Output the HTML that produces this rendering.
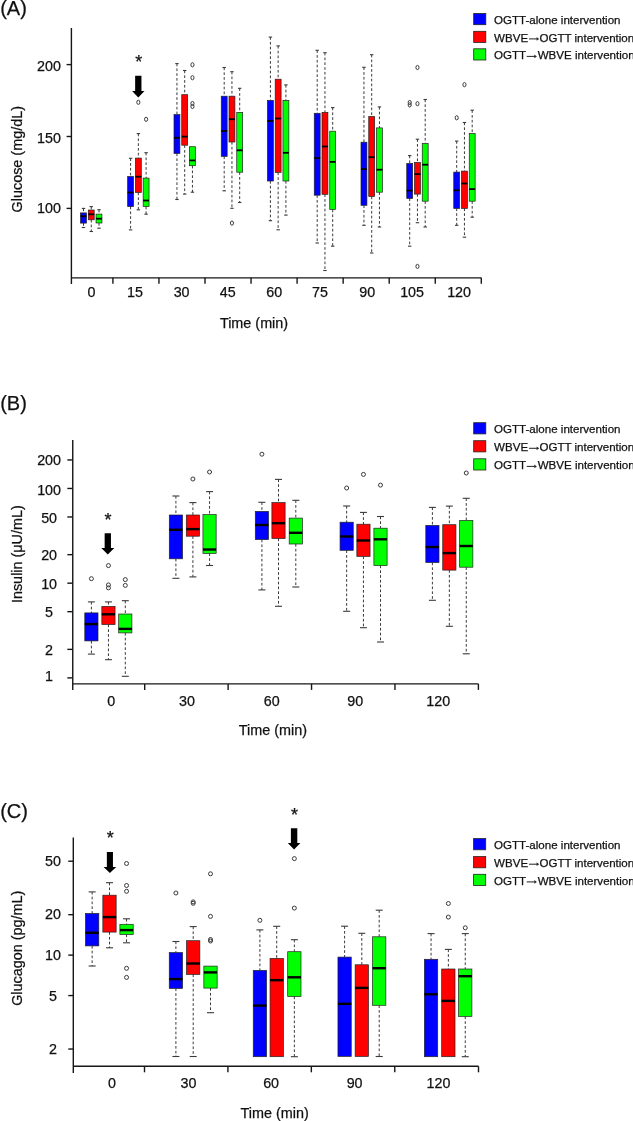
<!DOCTYPE html>
<html><head><meta charset="utf-8"><title>Figure</title>
<style>
html,body{margin:0;padding:0;background:#fff;}
body{width:633px;height:1121px;overflow:hidden;}
svg{display:block;font-family:"Liberation Sans", sans-serif;will-change:transform;}
text{fill:#111;stroke:#111;stroke-width:0.25px;}
.ax{stroke:#161616;stroke-width:1.4;fill:none;}
.wh{stroke:#3a3a3a;stroke-width:1;stroke-dasharray:2.7 2.1;}
.cap{stroke:#3a3a3a;stroke-width:1.1;}
.bx{stroke:#222;stroke-width:0.7;}
.ol{fill:none;stroke:#3a3a3a;stroke-width:1.0;}
</style></head>
<body><svg width="633" height="1121" viewBox="0 0 633 1121">
<rect width="633" height="1121" fill="#fff"/>
<text x="0.20" y="14.50" font-size="20" text-anchor="start" >(A)</text>
<line x1="71.40" y1="28.10" x2="71.40" y2="284.10" class="ax"/>
<line x1="66.60" y1="64.60" x2="71.40" y2="64.60" class="ax"/>
<text x="49.00" y="71.05" font-size="14.3" text-anchor="middle" >200</text>
<line x1="66.60" y1="136.50" x2="71.40" y2="136.50" class="ax"/>
<text x="49.00" y="142.95" font-size="14.3" text-anchor="middle" >150</text>
<line x1="66.60" y1="208.40" x2="71.40" y2="208.40" class="ax"/>
<text x="49.00" y="213.05" font-size="14.3" text-anchor="middle" >100</text>
<line x1="71.40" y1="277.85" x2="481.30" y2="277.85" class="ax"/>
<line x1="112.90" y1="277.85" x2="112.90" y2="283.85" class="ax"/>
<line x1="158.95" y1="277.85" x2="158.95" y2="283.85" class="ax"/>
<line x1="205.00" y1="277.85" x2="205.00" y2="283.85" class="ax"/>
<line x1="251.05" y1="277.85" x2="251.05" y2="283.85" class="ax"/>
<line x1="297.10" y1="277.85" x2="297.10" y2="283.85" class="ax"/>
<line x1="343.15" y1="277.85" x2="343.15" y2="283.85" class="ax"/>
<line x1="389.20" y1="277.85" x2="389.20" y2="283.85" class="ax"/>
<line x1="435.25" y1="277.85" x2="435.25" y2="283.85" class="ax"/>
<line x1="481.30" y1="277.85" x2="481.30" y2="283.85" class="ax"/>
<text x="91.50" y="297.20" font-size="14.3" text-anchor="middle" >0</text>
<text x="135.00" y="297.20" font-size="14.3" text-anchor="middle" >15</text>
<text x="181.60" y="297.20" font-size="14.3" text-anchor="middle" >30</text>
<text x="227.80" y="297.20" font-size="14.3" text-anchor="middle" >45</text>
<text x="274.30" y="297.20" font-size="14.3" text-anchor="middle" >60</text>
<text x="319.90" y="297.20" font-size="14.3" text-anchor="middle" >75</text>
<text x="367.20" y="297.20" font-size="14.3" text-anchor="middle" >90</text>
<text x="412.10" y="297.20" font-size="14.3" text-anchor="middle" >105</text>
<text x="459.10" y="297.20" font-size="14.3" text-anchor="middle" >120</text>
<text x="0" y="0" font-size="14.4" text-anchor="middle" transform="translate(21.90,159.25) rotate(-90)">Glucose (mg/dL)</text>
<text x="254.00" y="328.10" font-size="14.4" text-anchor="middle" >Time (min)</text>
<line x1="83.50" y1="208.40" x2="83.50" y2="212.90" class="wh"/>
<line x1="81.80" y1="208.40" x2="85.20" y2="208.40" class="cap"/>
<line x1="83.50" y1="223.10" x2="83.50" y2="227.50" class="wh"/>
<line x1="81.80" y1="227.50" x2="85.20" y2="227.50" class="cap"/>
<rect x="80.55" y="212.90" width="5.90" height="10.20" fill="#0000ff" class="bx"/>
<line x1="80.55" y1="216.20" x2="86.45" y2="216.20" stroke="#000" stroke-width="1.8"/>
<line x1="91.25" y1="206.60" x2="91.25" y2="210.00" class="wh"/>
<line x1="89.55" y1="206.60" x2="92.95" y2="206.60" class="cap"/>
<line x1="91.25" y1="219.80" x2="91.25" y2="231.50" class="wh"/>
<line x1="89.55" y1="231.50" x2="92.95" y2="231.50" class="cap"/>
<rect x="88.30" y="210.00" width="5.90" height="9.80" fill="#ff0000" class="bx"/>
<line x1="88.30" y1="214.30" x2="94.20" y2="214.30" stroke="#000" stroke-width="1.8"/>
<line x1="99.00" y1="209.70" x2="99.00" y2="214.10" class="wh"/>
<line x1="97.30" y1="209.70" x2="100.70" y2="209.70" class="cap"/>
<line x1="99.00" y1="223.00" x2="99.00" y2="228.20" class="wh"/>
<line x1="97.30" y1="228.20" x2="100.70" y2="228.20" class="cap"/>
<rect x="96.05" y="214.10" width="5.90" height="8.90" fill="#00ff00" class="bx"/>
<line x1="96.05" y1="218.70" x2="101.95" y2="218.70" stroke="#000" stroke-width="1.8"/>
<line x1="130.60" y1="158.30" x2="130.60" y2="176.50" class="wh"/>
<line x1="128.90" y1="158.30" x2="132.30" y2="158.30" class="cap"/>
<line x1="130.60" y1="206.60" x2="130.60" y2="229.90" class="wh"/>
<line x1="128.90" y1="229.90" x2="132.30" y2="229.90" class="cap"/>
<rect x="127.65" y="176.50" width="5.90" height="30.10" fill="#0000ff" class="bx"/>
<line x1="127.65" y1="192.50" x2="133.55" y2="192.50" stroke="#000" stroke-width="1.8"/>
<line x1="138.35" y1="133.60" x2="138.35" y2="158.10" class="wh"/>
<line x1="136.65" y1="133.60" x2="140.05" y2="133.60" class="cap"/>
<line x1="138.35" y1="192.50" x2="138.35" y2="209.80" class="wh"/>
<line x1="136.65" y1="209.80" x2="140.05" y2="209.80" class="cap"/>
<rect x="135.40" y="158.10" width="5.90" height="34.40" fill="#ff0000" class="bx"/>
<line x1="135.40" y1="176.70" x2="141.30" y2="176.70" stroke="#000" stroke-width="1.8"/>
<ellipse cx="138.35" cy="102.30" rx="1.55" ry="2.1" class="ol"/>
<line x1="146.10" y1="152.70" x2="146.10" y2="178.10" class="wh"/>
<line x1="144.40" y1="152.70" x2="147.80" y2="152.70" class="cap"/>
<line x1="146.10" y1="206.60" x2="146.10" y2="214.20" class="wh"/>
<line x1="144.40" y1="214.20" x2="147.80" y2="214.20" class="cap"/>
<rect x="143.15" y="178.10" width="5.90" height="28.50" fill="#00ff00" class="bx"/>
<line x1="143.15" y1="200.50" x2="149.05" y2="200.50" stroke="#000" stroke-width="1.8"/>
<ellipse cx="146.10" cy="119.30" rx="1.55" ry="2.1" class="ol"/>
<line x1="176.95" y1="63.60" x2="176.95" y2="114.60" class="wh"/>
<line x1="175.25" y1="63.60" x2="178.65" y2="63.60" class="cap"/>
<line x1="176.95" y1="153.50" x2="176.95" y2="199.50" class="wh"/>
<line x1="175.25" y1="199.50" x2="178.65" y2="199.50" class="cap"/>
<rect x="174.00" y="114.60" width="5.90" height="38.90" fill="#0000ff" class="bx"/>
<line x1="174.00" y1="137.80" x2="179.90" y2="137.80" stroke="#000" stroke-width="1.8"/>
<line x1="184.70" y1="70.50" x2="184.70" y2="94.70" class="wh"/>
<line x1="183.00" y1="70.50" x2="186.40" y2="70.50" class="cap"/>
<line x1="184.70" y1="145.20" x2="184.70" y2="194.10" class="wh"/>
<line x1="183.00" y1="194.10" x2="186.40" y2="194.10" class="cap"/>
<rect x="181.75" y="94.70" width="5.90" height="50.50" fill="#ff0000" class="bx"/>
<line x1="181.75" y1="136.60" x2="187.65" y2="136.60" stroke="#000" stroke-width="1.8"/>
<line x1="192.45" y1="165.70" x2="192.45" y2="192.20" class="wh"/>
<line x1="190.75" y1="192.20" x2="194.15" y2="192.20" class="cap"/>
<rect x="189.50" y="146.70" width="5.90" height="19.00" fill="#00ff00" class="bx"/>
<line x1="189.50" y1="160.40" x2="195.40" y2="160.40" stroke="#000" stroke-width="1.8"/>
<ellipse cx="192.45" cy="64.80" rx="1.55" ry="2.1" class="ol"/>
<ellipse cx="192.45" cy="77.70" rx="1.55" ry="2.1" class="ol"/>
<ellipse cx="192.45" cy="103.50" rx="1.55" ry="2.1" class="ol"/>
<ellipse cx="192.45" cy="106.50" rx="1.55" ry="2.1" class="ol"/>
<line x1="224.20" y1="67.50" x2="224.20" y2="96.20" class="wh"/>
<line x1="222.50" y1="67.50" x2="225.90" y2="67.50" class="cap"/>
<line x1="224.20" y1="156.40" x2="224.20" y2="190.80" class="wh"/>
<line x1="222.50" y1="190.80" x2="225.90" y2="190.80" class="cap"/>
<rect x="221.25" y="96.20" width="5.90" height="60.20" fill="#0000ff" class="bx"/>
<line x1="221.25" y1="131.00" x2="227.15" y2="131.00" stroke="#000" stroke-width="1.8"/>
<line x1="231.95" y1="71.70" x2="231.95" y2="96.20" class="wh"/>
<line x1="230.25" y1="71.70" x2="233.65" y2="71.70" class="cap"/>
<line x1="231.95" y1="142.00" x2="231.95" y2="208.30" class="wh"/>
<line x1="230.25" y1="208.30" x2="233.65" y2="208.30" class="cap"/>
<rect x="229.00" y="96.20" width="5.90" height="45.80" fill="#ff0000" class="bx"/>
<line x1="229.00" y1="119.20" x2="234.90" y2="119.20" stroke="#000" stroke-width="1.8"/>
<ellipse cx="231.95" cy="223.10" rx="1.55" ry="2.1" class="ol"/>
<line x1="239.70" y1="88.30" x2="239.70" y2="112.40" class="wh"/>
<line x1="238.00" y1="88.30" x2="241.40" y2="88.30" class="cap"/>
<line x1="239.70" y1="172.20" x2="239.70" y2="202.50" class="wh"/>
<line x1="238.00" y1="202.50" x2="241.40" y2="202.50" class="cap"/>
<rect x="236.75" y="112.40" width="5.90" height="59.80" fill="#00ff00" class="bx"/>
<line x1="236.75" y1="150.30" x2="242.65" y2="150.30" stroke="#000" stroke-width="1.8"/>
<line x1="270.40" y1="37.10" x2="270.40" y2="100.40" class="wh"/>
<line x1="268.70" y1="37.10" x2="272.10" y2="37.10" class="cap"/>
<line x1="270.40" y1="181.00" x2="270.40" y2="220.70" class="wh"/>
<line x1="268.70" y1="220.70" x2="272.10" y2="220.70" class="cap"/>
<rect x="267.45" y="100.40" width="5.90" height="80.60" fill="#0000ff" class="bx"/>
<line x1="267.45" y1="121.00" x2="273.35" y2="121.00" stroke="#000" stroke-width="1.8"/>
<line x1="278.15" y1="45.90" x2="278.15" y2="79.20" class="wh"/>
<line x1="276.45" y1="45.90" x2="279.85" y2="45.90" class="cap"/>
<line x1="278.15" y1="172.40" x2="278.15" y2="229.80" class="wh"/>
<line x1="276.45" y1="229.80" x2="279.85" y2="229.80" class="cap"/>
<rect x="275.20" y="79.20" width="5.90" height="93.20" fill="#ff0000" class="bx"/>
<line x1="275.20" y1="118.50" x2="281.10" y2="118.50" stroke="#000" stroke-width="1.8"/>
<line x1="285.90" y1="84.90" x2="285.90" y2="100.40" class="wh"/>
<line x1="284.20" y1="84.90" x2="287.60" y2="84.90" class="cap"/>
<line x1="285.90" y1="181.00" x2="285.90" y2="215.10" class="wh"/>
<line x1="284.20" y1="215.10" x2="287.60" y2="215.10" class="cap"/>
<rect x="282.95" y="100.40" width="5.90" height="80.60" fill="#00ff00" class="bx"/>
<line x1="282.95" y1="152.80" x2="288.85" y2="152.80" stroke="#000" stroke-width="1.8"/>
<line x1="317.20" y1="50.30" x2="317.20" y2="113.30" class="wh"/>
<line x1="315.50" y1="50.30" x2="318.90" y2="50.30" class="cap"/>
<line x1="317.20" y1="195.20" x2="317.20" y2="243.00" class="wh"/>
<line x1="315.50" y1="243.00" x2="318.90" y2="243.00" class="cap"/>
<rect x="314.25" y="113.30" width="5.90" height="81.90" fill="#0000ff" class="bx"/>
<line x1="314.25" y1="158.10" x2="320.15" y2="158.10" stroke="#000" stroke-width="1.8"/>
<line x1="324.95" y1="52.70" x2="324.95" y2="112.40" class="wh"/>
<line x1="323.25" y1="52.70" x2="326.65" y2="52.70" class="cap"/>
<line x1="324.95" y1="194.30" x2="324.95" y2="270.50" class="wh"/>
<line x1="323.25" y1="270.50" x2="326.65" y2="270.50" class="cap"/>
<rect x="322.00" y="112.40" width="5.90" height="81.90" fill="#ff0000" class="bx"/>
<line x1="322.00" y1="146.50" x2="327.90" y2="146.50" stroke="#000" stroke-width="1.8"/>
<line x1="332.70" y1="107.60" x2="332.70" y2="131.20" class="wh"/>
<line x1="331.00" y1="107.60" x2="334.40" y2="107.60" class="cap"/>
<line x1="332.70" y1="209.60" x2="332.70" y2="246.20" class="wh"/>
<line x1="331.00" y1="246.20" x2="334.40" y2="246.20" class="cap"/>
<rect x="329.75" y="131.20" width="5.90" height="78.40" fill="#00ff00" class="bx"/>
<line x1="329.75" y1="161.90" x2="335.65" y2="161.90" stroke="#000" stroke-width="1.8"/>
<line x1="363.95" y1="67.30" x2="363.95" y2="142.20" class="wh"/>
<line x1="362.25" y1="67.30" x2="365.65" y2="67.30" class="cap"/>
<line x1="363.95" y1="205.30" x2="363.95" y2="225.30" class="wh"/>
<line x1="362.25" y1="225.30" x2="365.65" y2="225.30" class="cap"/>
<rect x="361.00" y="142.20" width="5.90" height="63.10" fill="#0000ff" class="bx"/>
<line x1="361.00" y1="169.10" x2="366.90" y2="169.10" stroke="#000" stroke-width="1.8"/>
<line x1="371.70" y1="54.70" x2="371.70" y2="116.50" class="wh"/>
<line x1="370.00" y1="54.70" x2="373.40" y2="54.70" class="cap"/>
<line x1="371.70" y1="196.50" x2="371.70" y2="253.00" class="wh"/>
<line x1="370.00" y1="253.00" x2="373.40" y2="253.00" class="cap"/>
<rect x="368.75" y="116.50" width="5.90" height="80.00" fill="#ff0000" class="bx"/>
<line x1="368.75" y1="157.20" x2="374.65" y2="157.20" stroke="#000" stroke-width="1.8"/>
<line x1="379.45" y1="106.90" x2="379.45" y2="127.90" class="wh"/>
<line x1="377.75" y1="106.90" x2="381.15" y2="106.90" class="cap"/>
<line x1="379.45" y1="192.20" x2="379.45" y2="227.00" class="wh"/>
<line x1="377.75" y1="227.00" x2="381.15" y2="227.00" class="cap"/>
<rect x="376.50" y="127.90" width="5.90" height="64.30" fill="#00ff00" class="bx"/>
<line x1="376.50" y1="169.70" x2="382.40" y2="169.70" stroke="#000" stroke-width="1.8"/>
<line x1="409.70" y1="155.60" x2="409.70" y2="163.50" class="wh"/>
<line x1="408.00" y1="155.60" x2="411.40" y2="155.60" class="cap"/>
<line x1="409.70" y1="198.40" x2="409.70" y2="246.20" class="wh"/>
<line x1="408.00" y1="246.20" x2="411.40" y2="246.20" class="cap"/>
<rect x="406.75" y="163.50" width="5.90" height="34.90" fill="#0000ff" class="bx"/>
<line x1="406.75" y1="190.60" x2="412.65" y2="190.60" stroke="#000" stroke-width="1.8"/>
<ellipse cx="409.70" cy="102.50" rx="1.55" ry="2.1" class="ol"/>
<ellipse cx="409.70" cy="104.90" rx="1.55" ry="2.1" class="ol"/>
<line x1="417.45" y1="139.20" x2="417.45" y2="162.50" class="wh"/>
<line x1="415.75" y1="139.20" x2="419.15" y2="139.20" class="cap"/>
<line x1="417.45" y1="194.10" x2="417.45" y2="222.70" class="wh"/>
<line x1="415.75" y1="222.70" x2="419.15" y2="222.70" class="cap"/>
<rect x="414.50" y="162.50" width="5.90" height="31.60" fill="#ff0000" class="bx"/>
<line x1="414.50" y1="174.10" x2="420.40" y2="174.10" stroke="#000" stroke-width="1.8"/>
<ellipse cx="417.45" cy="67.50" rx="1.55" ry="2.1" class="ol"/>
<ellipse cx="417.45" cy="103.70" rx="1.55" ry="2.1" class="ol"/>
<ellipse cx="417.45" cy="266.40" rx="1.55" ry="2.1" class="ol"/>
<line x1="425.20" y1="99.50" x2="425.20" y2="143.50" class="wh"/>
<line x1="423.50" y1="99.50" x2="426.90" y2="99.50" class="cap"/>
<line x1="425.20" y1="201.20" x2="425.20" y2="227.00" class="wh"/>
<line x1="423.50" y1="227.00" x2="426.90" y2="227.00" class="cap"/>
<rect x="422.25" y="143.50" width="5.90" height="57.70" fill="#00ff00" class="bx"/>
<line x1="422.25" y1="164.70" x2="428.15" y2="164.70" stroke="#000" stroke-width="1.8"/>
<line x1="456.70" y1="141.10" x2="456.70" y2="172.10" class="wh"/>
<line x1="455.00" y1="141.10" x2="458.40" y2="141.10" class="cap"/>
<line x1="456.70" y1="208.40" x2="456.70" y2="225.30" class="wh"/>
<line x1="455.00" y1="225.30" x2="458.40" y2="225.30" class="cap"/>
<rect x="453.75" y="172.10" width="5.90" height="36.30" fill="#0000ff" class="bx"/>
<line x1="453.75" y1="190.30" x2="459.65" y2="190.30" stroke="#000" stroke-width="1.8"/>
<ellipse cx="456.70" cy="117.80" rx="1.55" ry="2.1" class="ol"/>
<line x1="464.45" y1="122.50" x2="464.45" y2="171.10" class="wh"/>
<line x1="462.75" y1="122.50" x2="466.15" y2="122.50" class="cap"/>
<line x1="464.45" y1="208.40" x2="464.45" y2="237.20" class="wh"/>
<line x1="462.75" y1="237.20" x2="466.15" y2="237.20" class="cap"/>
<rect x="461.50" y="171.10" width="5.90" height="37.30" fill="#ff0000" class="bx"/>
<line x1="461.50" y1="183.50" x2="467.40" y2="183.50" stroke="#000" stroke-width="1.8"/>
<ellipse cx="464.45" cy="84.70" rx="1.55" ry="2.1" class="ol"/>
<line x1="472.20" y1="110.20" x2="472.20" y2="133.50" class="wh"/>
<line x1="470.50" y1="110.20" x2="473.90" y2="110.20" class="cap"/>
<line x1="472.20" y1="201.20" x2="472.20" y2="217.20" class="wh"/>
<line x1="470.50" y1="217.20" x2="473.90" y2="217.20" class="cap"/>
<rect x="469.25" y="133.50" width="5.90" height="67.70" fill="#00ff00" class="bx"/>
<line x1="469.25" y1="189.10" x2="475.15" y2="189.10" stroke="#000" stroke-width="1.8"/>
<text x="138.70" y="68.10" font-size="18" text-anchor="middle" stroke="#000" stroke-width="0.45">*</text>
<polygon points="135.15,75.70 141.45,75.70 141.45,91.10 144.50,91.10 138.30,97.40 132.10,91.10 135.15,91.10" fill="#000"/>
<rect x="473.70" y="13.50" width="12.1" height="11.2" fill="#0000ff" stroke="#222" stroke-width="0.8"/>
<rect x="473.70" y="31.30" width="12.1" height="11.2" fill="#ff0000" stroke="#222" stroke-width="0.8"/>
<rect x="473.70" y="48.80" width="12.1" height="11.2" fill="#00ff00" stroke="#222" stroke-width="0.8"/>
<text x="494.10" y="23.80" font-size="11.55" text-anchor="start" fill="#1a1a1a">OGTT-alone intervention</text>
<text x="494.10" y="41.60" font-size="11.55" text-anchor="start" fill="#1a1a1a">WBVE</text>
<line x1="529.00" y1="38.90" x2="537.20" y2="38.90" stroke="#2a2a2a" stroke-width="1.05"/>
<polygon points="536.60,37.00 539.20,38.90 536.60,40.80" fill="#2a2a2a"/>
<text x="539.45" y="41.60" font-size="11.55" text-anchor="start" fill="#1a1a1a">OGTT intervention</text>
<text x="494.10" y="59.10" font-size="11.55" text-anchor="start" fill="#1a1a1a">OGTT</text>
<line x1="526.70" y1="56.40" x2="534.90" y2="56.40" stroke="#2a2a2a" stroke-width="1.05"/>
<polygon points="534.30,54.50 536.90,56.40 534.30,58.30" fill="#2a2a2a"/>
<text x="537.70" y="59.10" font-size="11.55" text-anchor="start" fill="#1a1a1a">WBVE intervention</text>
<text x="0.20" y="410.10" font-size="20" text-anchor="start" >(B)</text>
<line x1="72.75" y1="440.00" x2="72.75" y2="689.90" class="ax"/>
<line x1="67.35" y1="459.95" x2="72.75" y2="459.95" class="ax"/>
<text x="49.10" y="464.90" font-size="14.3" text-anchor="middle" >200</text>
<line x1="67.35" y1="488.46" x2="72.75" y2="488.46" class="ax"/>
<text x="49.10" y="494.61" font-size="14.3" text-anchor="middle" >100</text>
<line x1="67.35" y1="516.97" x2="72.75" y2="516.97" class="ax"/>
<text x="49.10" y="522.52" font-size="14.3" text-anchor="middle" >50</text>
<line x1="67.35" y1="554.66" x2="72.75" y2="554.66" class="ax"/>
<text x="49.10" y="559.61" font-size="14.3" text-anchor="middle" >20</text>
<line x1="67.35" y1="583.17" x2="72.75" y2="583.17" class="ax"/>
<text x="49.10" y="588.92" font-size="14.3" text-anchor="middle" >10</text>
<line x1="67.35" y1="611.68" x2="72.75" y2="611.68" class="ax"/>
<text x="49.10" y="616.63" font-size="14.3" text-anchor="middle" >5</text>
<line x1="67.35" y1="649.37" x2="72.75" y2="649.37" class="ax"/>
<text x="49.10" y="655.02" font-size="14.3" text-anchor="middle" >2</text>
<line x1="67.35" y1="677.88" x2="72.75" y2="677.88" class="ax"/>
<text x="49.10" y="680.83" font-size="14.3" text-anchor="middle" >1</text>
<line x1="72.70" y1="683.90" x2="478.40" y2="683.90" class="ax"/>
<line x1="144.70" y1="683.90" x2="144.70" y2="689.90" class="ax"/>
<line x1="228.12" y1="683.90" x2="228.12" y2="689.90" class="ax"/>
<line x1="311.54" y1="683.90" x2="311.54" y2="689.90" class="ax"/>
<line x1="394.96" y1="683.90" x2="394.96" y2="689.90" class="ax"/>
<line x1="478.40" y1="683.90" x2="478.40" y2="689.90" class="ax"/>
<text x="111.30" y="706.00" font-size="14.3" text-anchor="middle" >0</text>
<text x="187.00" y="706.00" font-size="14.3" text-anchor="middle" >30</text>
<text x="271.80" y="706.00" font-size="14.3" text-anchor="middle" >60</text>
<text x="355.20" y="706.00" font-size="14.3" text-anchor="middle" >90</text>
<text x="438.20" y="706.00" font-size="14.3" text-anchor="middle" >120</text>
<text x="0" y="0" font-size="14.4" text-anchor="middle" transform="translate(21.90,554.15) rotate(-90)">Insulin (μU/mL)</text>
<text x="272.90" y="735.10" font-size="14.4" text-anchor="middle" >Time (min)</text>
<line x1="91.40" y1="601.90" x2="91.40" y2="612.90" class="wh"/>
<line x1="87.90" y1="601.90" x2="94.90" y2="601.90" class="cap"/>
<line x1="91.40" y1="640.90" x2="91.40" y2="654.10" class="wh"/>
<line x1="87.90" y1="654.10" x2="94.90" y2="654.10" class="cap"/>
<rect x="84.80" y="612.90" width="13.20" height="28.00" fill="#0000ff" class="bx"/>
<line x1="84.80" y1="624.10" x2="98.00" y2="624.10" stroke="#000" stroke-width="2.4"/>
<ellipse cx="91.40" cy="578.70" rx="2.0" ry="2.0" class="ol"/>
<line x1="108.45" y1="601.90" x2="108.45" y2="606.40" class="wh"/>
<line x1="104.95" y1="601.90" x2="111.95" y2="601.90" class="cap"/>
<line x1="108.45" y1="624.50" x2="108.45" y2="659.70" class="wh"/>
<line x1="104.95" y1="659.70" x2="111.95" y2="659.70" class="cap"/>
<rect x="101.85" y="606.40" width="13.20" height="18.10" fill="#ff0000" class="bx"/>
<line x1="101.85" y1="614.30" x2="115.05" y2="614.30" stroke="#000" stroke-width="2.4"/>
<ellipse cx="108.45" cy="565.60" rx="2.0" ry="2.0" class="ol"/>
<ellipse cx="108.45" cy="584.90" rx="2.0" ry="2.0" class="ol"/>
<ellipse cx="108.45" cy="587.90" rx="2.0" ry="2.0" class="ol"/>
<line x1="125.30" y1="600.70" x2="125.30" y2="614.00" class="wh"/>
<line x1="121.80" y1="600.70" x2="128.80" y2="600.70" class="cap"/>
<line x1="125.30" y1="632.90" x2="125.30" y2="676.30" class="wh"/>
<line x1="121.80" y1="676.30" x2="128.80" y2="676.30" class="cap"/>
<rect x="118.70" y="614.00" width="13.20" height="18.90" fill="#00ff00" class="bx"/>
<line x1="118.70" y1="628.90" x2="131.90" y2="628.90" stroke="#000" stroke-width="2.4"/>
<ellipse cx="125.30" cy="579.60" rx="2.0" ry="2.0" class="ol"/>
<ellipse cx="125.30" cy="585.40" rx="2.0" ry="2.0" class="ol"/>
<line x1="175.90" y1="496.00" x2="175.90" y2="515.00" class="wh"/>
<line x1="172.40" y1="496.00" x2="179.40" y2="496.00" class="cap"/>
<line x1="175.90" y1="558.80" x2="175.90" y2="578.30" class="wh"/>
<line x1="172.40" y1="578.30" x2="179.40" y2="578.30" class="cap"/>
<rect x="169.30" y="515.00" width="13.20" height="43.80" fill="#0000ff" class="bx"/>
<line x1="169.30" y1="529.80" x2="182.50" y2="529.80" stroke="#000" stroke-width="2.4"/>
<line x1="192.90" y1="502.60" x2="192.90" y2="515.00" class="wh"/>
<line x1="189.40" y1="502.60" x2="196.40" y2="502.60" class="cap"/>
<line x1="192.90" y1="536.20" x2="192.90" y2="576.90" class="wh"/>
<line x1="189.40" y1="576.90" x2="196.40" y2="576.90" class="cap"/>
<rect x="186.30" y="515.00" width="13.20" height="21.20" fill="#ff0000" class="bx"/>
<line x1="186.30" y1="529.10" x2="199.50" y2="529.10" stroke="#000" stroke-width="2.4"/>
<ellipse cx="192.90" cy="479.00" rx="2.0" ry="2.0" class="ol"/>
<line x1="209.55" y1="491.60" x2="209.55" y2="514.60" class="wh"/>
<line x1="206.05" y1="491.60" x2="213.05" y2="491.60" class="cap"/>
<line x1="209.55" y1="553.40" x2="209.55" y2="565.50" class="wh"/>
<line x1="206.05" y1="565.50" x2="213.05" y2="565.50" class="cap"/>
<rect x="202.95" y="514.60" width="13.20" height="38.80" fill="#00ff00" class="bx"/>
<line x1="202.95" y1="549.50" x2="216.15" y2="549.50" stroke="#000" stroke-width="2.4"/>
<ellipse cx="209.55" cy="472.00" rx="2.0" ry="2.0" class="ol"/>
<line x1="261.90" y1="502.30" x2="261.90" y2="511.40" class="wh"/>
<line x1="258.40" y1="502.30" x2="265.40" y2="502.30" class="cap"/>
<line x1="261.90" y1="539.60" x2="261.90" y2="589.90" class="wh"/>
<line x1="258.40" y1="589.90" x2="265.40" y2="589.90" class="cap"/>
<rect x="255.30" y="511.40" width="13.20" height="28.20" fill="#0000ff" class="bx"/>
<line x1="255.30" y1="525.00" x2="268.50" y2="525.00" stroke="#000" stroke-width="2.4"/>
<ellipse cx="261.90" cy="454.20" rx="2.0" ry="2.0" class="ol"/>
<line x1="278.50" y1="479.40" x2="278.50" y2="502.60" class="wh"/>
<line x1="275.00" y1="479.40" x2="282.00" y2="479.40" class="cap"/>
<line x1="278.50" y1="538.50" x2="278.50" y2="606.30" class="wh"/>
<line x1="275.00" y1="606.30" x2="282.00" y2="606.30" class="cap"/>
<rect x="271.90" y="502.60" width="13.20" height="35.90" fill="#ff0000" class="bx"/>
<line x1="271.90" y1="523.20" x2="285.10" y2="523.20" stroke="#000" stroke-width="2.4"/>
<line x1="295.80" y1="500.30" x2="295.80" y2="518.10" class="wh"/>
<line x1="292.30" y1="500.30" x2="299.30" y2="500.30" class="cap"/>
<line x1="295.80" y1="544.00" x2="295.80" y2="587.00" class="wh"/>
<line x1="292.30" y1="587.00" x2="299.30" y2="587.00" class="cap"/>
<rect x="289.20" y="518.10" width="13.20" height="25.90" fill="#00ff00" class="bx"/>
<line x1="289.20" y1="532.80" x2="302.40" y2="532.80" stroke="#000" stroke-width="2.4"/>
<line x1="346.65" y1="506.00" x2="346.65" y2="522.20" class="wh"/>
<line x1="343.15" y1="506.00" x2="350.15" y2="506.00" class="cap"/>
<line x1="346.65" y1="550.30" x2="346.65" y2="611.30" class="wh"/>
<line x1="343.15" y1="611.30" x2="350.15" y2="611.30" class="cap"/>
<rect x="340.05" y="522.20" width="13.20" height="28.10" fill="#0000ff" class="bx"/>
<line x1="340.05" y1="536.50" x2="353.25" y2="536.50" stroke="#000" stroke-width="2.4"/>
<ellipse cx="346.65" cy="488.00" rx="2.0" ry="2.0" class="ol"/>
<line x1="363.45" y1="512.40" x2="363.45" y2="524.20" class="wh"/>
<line x1="359.95" y1="512.40" x2="366.95" y2="512.40" class="cap"/>
<line x1="363.45" y1="556.40" x2="363.45" y2="627.70" class="wh"/>
<line x1="359.95" y1="627.70" x2="366.95" y2="627.70" class="cap"/>
<rect x="356.85" y="524.20" width="13.20" height="32.20" fill="#ff0000" class="bx"/>
<line x1="356.85" y1="540.50" x2="370.05" y2="540.50" stroke="#000" stroke-width="2.4"/>
<ellipse cx="363.45" cy="474.40" rx="2.0" ry="2.0" class="ol"/>
<line x1="380.50" y1="516.50" x2="380.50" y2="528.20" class="wh"/>
<line x1="377.00" y1="516.50" x2="384.00" y2="516.50" class="cap"/>
<line x1="380.50" y1="565.50" x2="380.50" y2="642.00" class="wh"/>
<line x1="377.00" y1="642.00" x2="384.00" y2="642.00" class="cap"/>
<rect x="373.90" y="528.20" width="13.20" height="37.30" fill="#00ff00" class="bx"/>
<line x1="373.90" y1="539.30" x2="387.10" y2="539.30" stroke="#000" stroke-width="2.4"/>
<ellipse cx="380.50" cy="485.10" rx="2.0" ry="2.0" class="ol"/>
<line x1="432.40" y1="507.40" x2="432.40" y2="525.40" class="wh"/>
<line x1="428.90" y1="507.40" x2="435.90" y2="507.40" class="cap"/>
<line x1="432.40" y1="562.50" x2="432.40" y2="600.30" class="wh"/>
<line x1="428.90" y1="600.30" x2="435.90" y2="600.30" class="cap"/>
<rect x="425.80" y="525.40" width="13.20" height="37.10" fill="#0000ff" class="bx"/>
<line x1="425.80" y1="547.00" x2="439.00" y2="547.00" stroke="#000" stroke-width="2.4"/>
<line x1="449.35" y1="506.10" x2="449.35" y2="524.70" class="wh"/>
<line x1="445.85" y1="506.10" x2="452.85" y2="506.10" class="cap"/>
<line x1="449.35" y1="570.10" x2="449.35" y2="626.30" class="wh"/>
<line x1="445.85" y1="626.30" x2="452.85" y2="626.30" class="cap"/>
<rect x="442.75" y="524.70" width="13.20" height="45.40" fill="#ff0000" class="bx"/>
<line x1="442.75" y1="553.10" x2="455.95" y2="553.10" stroke="#000" stroke-width="2.4"/>
<line x1="466.25" y1="498.30" x2="466.25" y2="520.40" class="wh"/>
<line x1="462.75" y1="498.30" x2="469.75" y2="498.30" class="cap"/>
<line x1="466.25" y1="567.20" x2="466.25" y2="653.80" class="wh"/>
<line x1="462.75" y1="653.80" x2="469.75" y2="653.80" class="cap"/>
<rect x="459.65" y="520.40" width="13.20" height="46.80" fill="#00ff00" class="bx"/>
<line x1="459.65" y1="546.00" x2="472.85" y2="546.00" stroke="#000" stroke-width="2.4"/>
<ellipse cx="466.25" cy="473.00" rx="2.0" ry="2.0" class="ol"/>
<text x="107.90" y="526.00" font-size="18" text-anchor="middle" stroke="#000" stroke-width="0.45">*</text>
<polygon points="104.65,533.20 110.95,533.20 110.95,548.10 114.30,548.10 107.80,554.40 101.30,548.10 104.65,548.10" fill="#000"/>
<rect x="473.70" y="422.70" width="12.1" height="11.2" fill="#0000ff" stroke="#222" stroke-width="0.8"/>
<rect x="473.70" y="440.70" width="12.1" height="11.2" fill="#ff0000" stroke="#222" stroke-width="0.8"/>
<rect x="473.70" y="458.80" width="12.1" height="11.2" fill="#00ff00" stroke="#222" stroke-width="0.8"/>
<text x="494.10" y="433.00" font-size="11.55" text-anchor="start" fill="#1a1a1a">OGTT-alone intervention</text>
<text x="494.10" y="451.00" font-size="11.55" text-anchor="start" fill="#1a1a1a">WBVE</text>
<line x1="529.00" y1="448.30" x2="537.20" y2="448.30" stroke="#2a2a2a" stroke-width="1.05"/>
<polygon points="536.60,446.40 539.20,448.30 536.60,450.20" fill="#2a2a2a"/>
<text x="539.45" y="451.00" font-size="11.55" text-anchor="start" fill="#1a1a1a">OGTT intervention</text>
<text x="494.10" y="469.10" font-size="11.55" text-anchor="start" fill="#1a1a1a">OGTT</text>
<line x1="526.70" y1="466.40" x2="534.90" y2="466.40" stroke="#2a2a2a" stroke-width="1.05"/>
<polygon points="534.30,464.50 536.90,466.40 534.30,468.30" fill="#2a2a2a"/>
<text x="537.70" y="469.10" font-size="11.55" text-anchor="start" fill="#1a1a1a">WBVE intervention</text>
<text x="0.20" y="817.80" font-size="20" text-anchor="start" >(C)</text>
<line x1="73.30" y1="837.60" x2="73.30" y2="1073.00" class="ax"/>
<line x1="68.30" y1="861.21" x2="73.30" y2="861.21" class="ax"/>
<text x="52.90" y="866.36" font-size="14.3" text-anchor="middle" >50</text>
<line x1="68.30" y1="914.67" x2="73.30" y2="914.67" class="ax"/>
<text x="52.90" y="918.82" font-size="14.3" text-anchor="middle" >20</text>
<line x1="68.30" y1="955.12" x2="73.30" y2="955.12" class="ax"/>
<text x="52.90" y="959.87" font-size="14.3" text-anchor="middle" >10</text>
<line x1="68.30" y1="995.57" x2="73.30" y2="995.57" class="ax"/>
<text x="52.90" y="1001.32" font-size="14.3" text-anchor="middle" >5</text>
<line x1="68.30" y1="1049.03" x2="73.30" y2="1049.03" class="ax"/>
<text x="52.90" y="1054.08" font-size="14.3" text-anchor="middle" >2</text>
<line x1="73.20" y1="1066.30" x2="478.50" y2="1066.30" class="ax"/>
<line x1="144.50" y1="1066.30" x2="144.50" y2="1072.30" class="ax"/>
<line x1="227.92" y1="1066.30" x2="227.92" y2="1072.30" class="ax"/>
<line x1="311.34" y1="1066.30" x2="311.34" y2="1072.30" class="ax"/>
<line x1="394.76" y1="1066.30" x2="394.76" y2="1072.30" class="ax"/>
<line x1="478.50" y1="1066.30" x2="478.50" y2="1072.30" class="ax"/>
<text x="111.90" y="1088.40" font-size="14.3" text-anchor="middle" >0</text>
<text x="188.40" y="1088.40" font-size="14.3" text-anchor="middle" >30</text>
<text x="271.10" y="1088.40" font-size="14.3" text-anchor="middle" >60</text>
<text x="354.60" y="1088.40" font-size="14.3" text-anchor="middle" >90</text>
<text x="438.50" y="1088.40" font-size="14.3" text-anchor="middle" >120</text>
<text x="0" y="0" font-size="14.4" text-anchor="middle" transform="translate(21.90,948.25) rotate(-90)">Glucagon (pg/mL)</text>
<text x="274.60" y="1117.70" font-size="14.4" text-anchor="middle" >Time (min)</text>
<line x1="92.15" y1="891.90" x2="92.15" y2="913.50" class="wh"/>
<line x1="88.65" y1="891.90" x2="95.65" y2="891.90" class="cap"/>
<line x1="92.15" y1="945.90" x2="92.15" y2="966.00" class="wh"/>
<line x1="88.65" y1="966.00" x2="95.65" y2="966.00" class="cap"/>
<rect x="85.50" y="913.50" width="13.30" height="32.40" fill="#0000ff" class="bx"/>
<line x1="85.50" y1="932.80" x2="98.80" y2="932.80" stroke="#000" stroke-width="2.4"/>
<line x1="109.50" y1="882.70" x2="109.50" y2="895.20" class="wh"/>
<line x1="106.00" y1="882.70" x2="113.00" y2="882.70" class="cap"/>
<line x1="109.50" y1="932.10" x2="109.50" y2="947.80" class="wh"/>
<line x1="106.00" y1="947.80" x2="113.00" y2="947.80" class="cap"/>
<rect x="102.85" y="895.20" width="13.30" height="36.90" fill="#ff0000" class="bx"/>
<line x1="102.85" y1="917.10" x2="116.15" y2="917.10" stroke="#000" stroke-width="2.4"/>
<line x1="126.55" y1="918.80" x2="126.55" y2="924.30" class="wh"/>
<line x1="123.05" y1="918.80" x2="130.05" y2="918.80" class="cap"/>
<line x1="126.55" y1="934.50" x2="126.55" y2="942.80" class="wh"/>
<line x1="123.05" y1="942.80" x2="130.05" y2="942.80" class="cap"/>
<rect x="119.90" y="924.30" width="13.30" height="10.20" fill="#00ff00" class="bx"/>
<line x1="119.90" y1="930.10" x2="133.20" y2="930.10" stroke="#000" stroke-width="2.4"/>
<ellipse cx="126.55" cy="863.50" rx="2.0" ry="2.0" class="ol"/>
<ellipse cx="126.55" cy="885.50" rx="2.0" ry="2.0" class="ol"/>
<ellipse cx="126.55" cy="891.30" rx="2.0" ry="2.0" class="ol"/>
<ellipse cx="126.55" cy="968.30" rx="2.0" ry="2.0" class="ol"/>
<ellipse cx="126.55" cy="977.40" rx="2.0" ry="2.0" class="ol"/>
<line x1="175.90" y1="941.50" x2="175.90" y2="952.60" class="wh"/>
<line x1="172.40" y1="941.50" x2="179.40" y2="941.50" class="cap"/>
<line x1="175.90" y1="988.40" x2="175.90" y2="1056.50" class="wh"/>
<line x1="172.40" y1="1056.50" x2="179.40" y2="1056.50" class="cap"/>
<rect x="169.25" y="952.60" width="13.30" height="35.80" fill="#0000ff" class="bx"/>
<line x1="169.25" y1="979.10" x2="182.55" y2="979.10" stroke="#000" stroke-width="2.4"/>
<ellipse cx="175.90" cy="893.00" rx="2.0" ry="2.0" class="ol"/>
<line x1="193.20" y1="926.60" x2="193.20" y2="940.70" class="wh"/>
<line x1="189.70" y1="926.60" x2="196.70" y2="926.60" class="cap"/>
<line x1="193.20" y1="974.40" x2="193.20" y2="1056.50" class="wh"/>
<line x1="189.70" y1="1056.50" x2="196.70" y2="1056.50" class="cap"/>
<rect x="186.55" y="940.70" width="13.30" height="33.70" fill="#ff0000" class="bx"/>
<line x1="186.55" y1="963.50" x2="199.85" y2="963.50" stroke="#000" stroke-width="2.4"/>
<ellipse cx="193.20" cy="901.90" rx="2.0" ry="2.0" class="ol"/>
<ellipse cx="193.20" cy="903.30" rx="2.0" ry="2.0" class="ol"/>
<line x1="210.50" y1="988.10" x2="210.50" y2="1012.70" class="wh"/>
<line x1="207.00" y1="1012.70" x2="214.00" y2="1012.70" class="cap"/>
<rect x="203.85" y="966.10" width="13.30" height="22.00" fill="#00ff00" class="bx"/>
<line x1="203.85" y1="972.40" x2="217.15" y2="972.40" stroke="#000" stroke-width="2.4"/>
<ellipse cx="210.50" cy="873.80" rx="2.0" ry="2.0" class="ol"/>
<ellipse cx="210.50" cy="916.40" rx="2.0" ry="2.0" class="ol"/>
<ellipse cx="210.50" cy="939.50" rx="2.0" ry="2.0" class="ol"/>
<ellipse cx="210.50" cy="941.00" rx="2.0" ry="2.0" class="ol"/>
<line x1="259.90" y1="929.90" x2="259.90" y2="970.40" class="wh"/>
<line x1="256.40" y1="929.90" x2="263.40" y2="929.90" class="cap"/>
<rect x="253.25" y="970.40" width="13.30" height="86.30" fill="#0000ff" class="bx"/>
<line x1="253.25" y1="1005.60" x2="266.55" y2="1005.60" stroke="#000" stroke-width="2.4"/>
<ellipse cx="259.90" cy="920.30" rx="2.0" ry="2.0" class="ol"/>
<line x1="276.70" y1="926.30" x2="276.70" y2="958.40" class="wh"/>
<line x1="273.20" y1="926.30" x2="280.20" y2="926.30" class="cap"/>
<rect x="270.05" y="958.40" width="13.30" height="98.30" fill="#ff0000" class="bx"/>
<line x1="270.05" y1="980.20" x2="283.35" y2="980.20" stroke="#000" stroke-width="2.4"/>
<line x1="294.35" y1="939.70" x2="294.35" y2="951.70" class="wh"/>
<line x1="290.85" y1="939.70" x2="297.85" y2="939.70" class="cap"/>
<line x1="294.35" y1="996.50" x2="294.35" y2="1056.70" class="wh"/>
<line x1="290.85" y1="1056.70" x2="297.85" y2="1056.70" class="cap"/>
<rect x="287.70" y="951.70" width="13.30" height="44.80" fill="#00ff00" class="bx"/>
<line x1="287.70" y1="977.30" x2="301.00" y2="977.30" stroke="#000" stroke-width="2.4"/>
<ellipse cx="294.35" cy="858.60" rx="2.0" ry="2.0" class="ol"/>
<ellipse cx="294.35" cy="908.10" rx="2.0" ry="2.0" class="ol"/>
<line x1="344.60" y1="926.20" x2="344.60" y2="957.10" class="wh"/>
<line x1="341.10" y1="926.20" x2="348.10" y2="926.20" class="cap"/>
<rect x="337.95" y="957.10" width="13.30" height="99.30" fill="#0000ff" class="bx"/>
<line x1="337.95" y1="1003.80" x2="351.25" y2="1003.80" stroke="#000" stroke-width="2.4"/>
<line x1="361.80" y1="933.30" x2="361.80" y2="964.80" class="wh"/>
<line x1="358.30" y1="933.30" x2="365.30" y2="933.30" class="cap"/>
<rect x="355.15" y="964.80" width="13.30" height="91.60" fill="#ff0000" class="bx"/>
<line x1="355.15" y1="987.90" x2="368.45" y2="987.90" stroke="#000" stroke-width="2.4"/>
<line x1="379.20" y1="910.20" x2="379.20" y2="936.80" class="wh"/>
<line x1="375.70" y1="910.20" x2="382.70" y2="910.20" class="cap"/>
<line x1="379.20" y1="1005.30" x2="379.20" y2="1056.50" class="wh"/>
<line x1="375.70" y1="1056.50" x2="382.70" y2="1056.50" class="cap"/>
<rect x="372.55" y="936.80" width="13.30" height="68.50" fill="#00ff00" class="bx"/>
<line x1="372.55" y1="968.20" x2="385.85" y2="968.20" stroke="#000" stroke-width="2.4"/>
<line x1="431.05" y1="933.60" x2="431.05" y2="959.30" class="wh"/>
<line x1="427.55" y1="933.60" x2="434.55" y2="933.60" class="cap"/>
<rect x="424.40" y="959.30" width="13.30" height="97.40" fill="#0000ff" class="bx"/>
<line x1="424.40" y1="994.30" x2="437.70" y2="994.30" stroke="#000" stroke-width="2.4"/>
<line x1="448.35" y1="949.40" x2="448.35" y2="969.00" class="wh"/>
<line x1="444.85" y1="949.40" x2="451.85" y2="949.40" class="cap"/>
<rect x="441.70" y="969.00" width="13.30" height="87.70" fill="#ff0000" class="bx"/>
<line x1="441.70" y1="1000.90" x2="455.00" y2="1000.90" stroke="#000" stroke-width="2.4"/>
<ellipse cx="448.35" cy="903.50" rx="2.0" ry="2.0" class="ol"/>
<ellipse cx="448.35" cy="917.10" rx="2.0" ry="2.0" class="ol"/>
<line x1="465.25" y1="933.60" x2="465.25" y2="969.00" class="wh"/>
<line x1="461.75" y1="933.60" x2="468.75" y2="933.60" class="cap"/>
<line x1="465.25" y1="1016.40" x2="465.25" y2="1056.70" class="wh"/>
<line x1="461.75" y1="1056.70" x2="468.75" y2="1056.70" class="cap"/>
<rect x="458.60" y="969.00" width="13.30" height="47.40" fill="#00ff00" class="bx"/>
<line x1="458.60" y1="976.20" x2="471.90" y2="976.20" stroke="#000" stroke-width="2.4"/>
<ellipse cx="465.25" cy="927.80" rx="2.0" ry="2.0" class="ol"/>
<text x="110.30" y="844.30" font-size="18" text-anchor="middle" stroke="#000" stroke-width="0.45">*</text>
<polygon points="106.85,852.10 112.95,852.10 112.95,867.00 116.20,867.00 109.90,872.90 103.60,867.00 106.85,867.00" fill="#000"/>
<text x="294.40" y="820.80" font-size="18" text-anchor="middle" stroke="#000" stroke-width="0.45">*</text>
<polygon points="290.90,828.30 297.30,828.30 297.30,843.10 300.40,843.10 294.10,849.40 287.80,843.10 290.90,843.10" fill="#000"/>
<rect x="473.60" y="838.60" width="12.1" height="11.2" fill="#0000ff" stroke="#222" stroke-width="0.8"/>
<rect x="473.60" y="856.60" width="12.1" height="11.2" fill="#ff0000" stroke="#222" stroke-width="0.8"/>
<rect x="473.60" y="874.30" width="12.1" height="11.2" fill="#00ff00" stroke="#222" stroke-width="0.8"/>
<text x="494.10" y="848.90" font-size="11.55" text-anchor="start" fill="#1a1a1a">OGTT-alone intervention</text>
<text x="494.10" y="866.90" font-size="11.55" text-anchor="start" fill="#1a1a1a">WBVE</text>
<line x1="529.00" y1="864.20" x2="537.20" y2="864.20" stroke="#2a2a2a" stroke-width="1.05"/>
<polygon points="536.60,862.30 539.20,864.20 536.60,866.10" fill="#2a2a2a"/>
<text x="539.45" y="866.90" font-size="11.55" text-anchor="start" fill="#1a1a1a">OGTT intervention</text>
<text x="494.10" y="884.60" font-size="11.55" text-anchor="start" fill="#1a1a1a">OGTT</text>
<line x1="526.70" y1="881.90" x2="534.90" y2="881.90" stroke="#2a2a2a" stroke-width="1.05"/>
<polygon points="534.30,880.00 536.90,881.90 534.30,883.80" fill="#2a2a2a"/>
<text x="537.70" y="884.60" font-size="11.55" text-anchor="start" fill="#1a1a1a">WBVE intervention</text>
</svg></body></html>
